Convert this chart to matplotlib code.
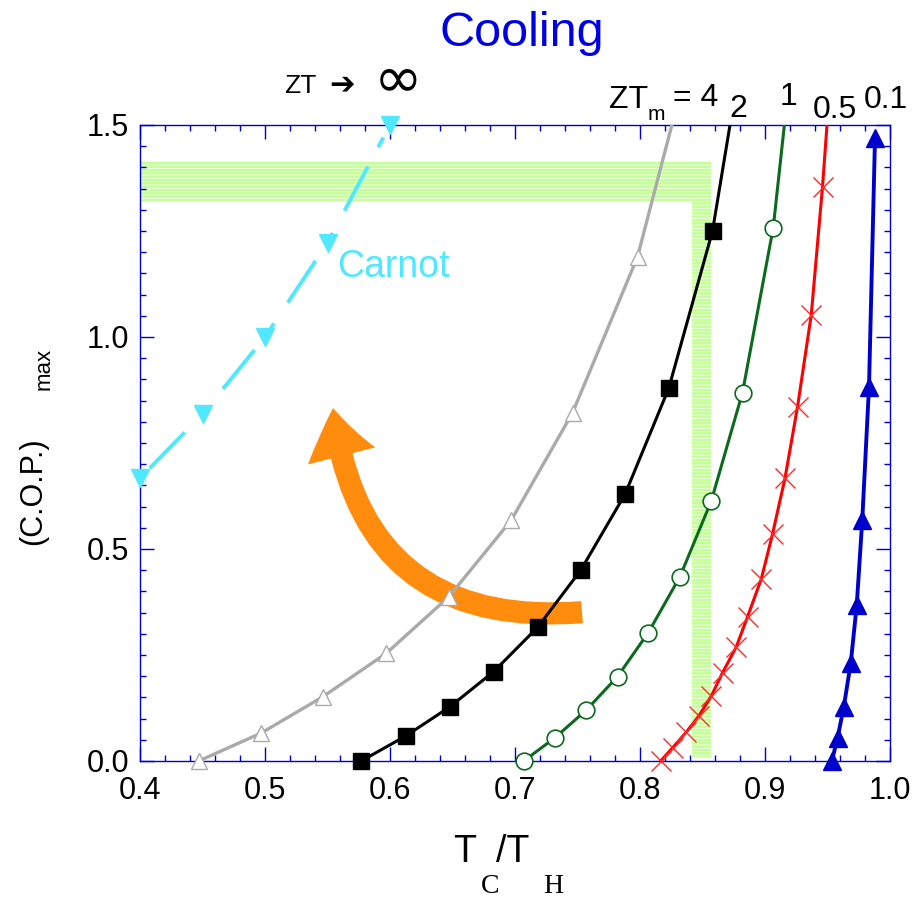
import matplotlib
matplotlib.use("Agg")
import matplotlib.pyplot as plt
from matplotlib.patches import Rectangle, FancyArrowPatch
from matplotlib.ticker import MultipleLocator

plt.rcParams['font.family'] = ['Liberation Sans', 'DejaVu Sans']
plt.rcParams['hatch.linewidth'] = 0.5

# ---------------- data ----------------
# ZT_m = 4 (grey, open triangles)
zt4_x = [0.447, 0.497, 0.546, 0.597, 0.647, 0.697, 0.746, 0.798]
zt4_y = [0.0, 0.066, 0.151, 0.254, 0.387, 0.568, 0.821, 1.189]
zt4_end = (0.8255, 1.5)
# ZT_m = 2 (black squares)
zt2_x = [0.577, 0.6126, 0.648, 0.683, 0.718, 0.7526, 0.788, 0.823, 0.858]
zt2_y = [0.0, 0.059, 0.128, 0.211, 0.315, 0.450, 0.629, 0.879, 1.250]
zt2_end = (0.872, 1.5)
# ZT_m = 1 (green open circles)
zt1_x = [0.707, 0.732, 0.757, 0.782, 0.8067, 0.832, 0.857, 0.882, 0.9066]
zt1_y = [0.0, 0.055, 0.120, 0.199, 0.303, 0.435, 0.613, 0.869, 1.258]
zt1_end = (0.9155, 1.5)
# ZT_m = 0.5 (red crosses)
zt05_x = [0.8165, 0.826, 0.837, 0.847, 0.857, 0.866, 0.877, 0.886, 0.897,
          0.906, 0.916, 0.926, 0.937, 0.946]
zt05_y = [0.0, 0.031, 0.068, 0.106, 0.153, 0.208, 0.269, 0.340, 0.429,
          0.535, 0.667, 0.835, 1.052, 1.354]
zt05_end = (0.9496, 1.5)
# ZT_m = 0.1 (blue filled triangles)
zt01_x = [0.9535, 0.958, 0.963, 0.9686, 0.9734, 0.9778, 0.9832, 0.988]
zt01_y = [0.0, 0.054, 0.127, 0.231, 0.368, 0.568, 0.882, 1.469]
# Carnot limit (ZT -> infinity)
carnot_x = [0.40, 0.45, 0.50, 0.55, 0.60]
carnot_y = [0.667, 0.818, 1.000, 1.222, 1.500]

# highlighted bands (green hatched)
band_h = dict(x0=0.40, x1=0.8568, y0=1.319, y1=1.414)
band_v = dict(x0=0.8412, x1=0.8568, y0=0.010, y1=1.319)

xticks = [0.4, 0.5, 0.6, 0.7, 0.8, 0.9, 1.0]
yticks = [0.0, 0.5, 1.0, 1.5]

# ---------------- figure ----------------
W, H = 921, 907
fig = plt.figure(figsize=(W / 100, H / 100), dpi=100)
L, R, T, B = 140, 890, 125, 761
ax = fig.add_axes([L / W, 1 - B / H, (R - L) / W, (B - T) / H])
ax.set_xlim(0.4, 1.0)
ax.set_ylim(0.0, 1.5)

frame = '#0000cc'
for s in ax.spines.values():
    s.set_color(frame)
    s.set_linewidth(1.0)

ax.xaxis.set_major_locator(MultipleLocator(0.1))
ax.xaxis.set_minor_locator(MultipleLocator(0.02))
ax.yaxis.set_major_locator(MultipleLocator(0.5))
ax.yaxis.set_minor_locator(MultipleLocator(0.05))
ax.tick_params(which='both', direction='in', top=True, right=True,
               color=frame, width=1.0)
ax.tick_params(which='major', length=10)
ax.tick_params(which='minor', length=4.5)
ax.tick_params(axis='x', which='major', labelsize=22, pad=11)
ax.tick_params(axis='y', which='major', labelsize=22, pad=8)
ax.set_xticks(xticks)
ax.set_xticklabels([f"{v:.1f}" for v in xticks])
ax.set_yticks(yticks)
ax.set_yticklabels([f"{v:.1f}" for v in yticks])

# green hatched bands
for b in (band_h, band_v):
    ax.add_patch(Rectangle((b['x0'], b['y0']), b['x1'] - b['x0'], b['y1'] - b['y0'],
                           facecolor='#c6ff9a', edgecolor='white', linewidth=0,
                           hatch='-----', zorder=1))

# orange curved arrow
arrow = FancyArrowPatch((0.7536, 0.351), (0.5544, 0.8325),
                        connectionstyle='arc3,rad=-0.48',
                        arrowstyle='simple,head_length=35,head_width=50,tail_width=16',
                        mutation_scale=1, color='#ff8c0c', lw=0,
                        shrinkA=0, shrinkB=0, zorder=2)
ax.add_patch(arrow)

# curves
ax.plot(zt4_x + [zt4_end[0]], zt4_y + [zt4_end[1]], color='#aaaaaa', lw=2.4, zorder=3)
ax.plot(zt4_x, zt4_y, ls='none', marker='^', ms=12, mfc='white', mec='#aaaaaa',
        mew=1.0, zorder=4, clip_on=False)

ax.plot(zt2_x + [zt2_end[0]], zt2_y + [zt2_end[1]], color='black', lw=2.2, zorder=3)
ax.plot(zt2_x, zt2_y, ls='none', marker='s', ms=12, mfc='black', mec='black',
        zorder=4, clip_on=False)

ax.plot(zt1_x + [zt1_end[0]], zt1_y + [zt1_end[1]], color='#0b6a1e', lw=2.2, zorder=3)
ax.plot(zt1_x, zt1_y, ls='none', marker='o', ms=12, mfc='white', mec='#0b6a1e',
        mew=1.2, zorder=4, clip_on=False)

ax.plot(zt05_x + [zt05_end[0]], zt05_y + [zt05_end[1]], color='#ff0000', lw=2.2, zorder=3)
ax.plot(zt05_x, zt05_y, ls='none', marker='x', ms=14, mec='#ff2a2a',
        mew=1.0, zorder=4, clip_on=False)

ax.plot(zt01_x, zt01_y, color='#0000cc', lw=2.8, marker='^', ms=13,
        mfc='#0000cc', mec='#0000cc', zorder=4, clip_on=False)

# Carnot
lw_c = 2.8
ax.plot(carnot_x, carnot_y, color='#50e8ff', lw=lw_c,
        ls=(24.2, (12.86, 5.66, 2.83, 6.43)), zorder=3, clip_on=False)
ax.plot(carnot_x, carnot_y, ls='none', marker='v', ms=13, mfc='#50e8ff',
        mec='#50e8ff', zorder=4, clip_on=False)


def ftext(px, py, s, **kw):
    fig.text(px / W, 1 - py / H, s, **kw)


ftext(337, 277, 'Carnot', fontsize=27, color='#50e8ff', va='baseline', ha='left')

# title and annotations
ftext(522, 46, 'Cooling', fontsize=35, color='#0000e6', ha='center', va='baseline')
ftext(284, 93, 'ZT', fontsize=19, ha='left', va='baseline')
ftext(329, 93, '\u2794', fontsize=22, ha='left', va='baseline',
      family='DejaVu Sans', fontweight='bold')
ftext(374, 96, '\u221e', fontsize=42, ha='left', va='baseline', family='DejaVu Sans')

ftext(609, 108, 'ZT', fontsize=23, ha='left', va='baseline')
ftext(648, 120, 'm', fontsize=15, ha='left', va='baseline')
ftext(673, 106, '= 4', fontsize=23, ha='left', va='baseline')
ftext(729, 117, '2', fontsize=23, ha='left', va='baseline')
ftext(780, 105, '1', fontsize=23, ha='left', va='baseline')
ftext(813, 118, '0.5', fontsize=23, ha='left', va='baseline')
ftext(864, 108, '0.1', fontsize=23, ha='left', va='baseline')

# axis labels
ftext(33, 545, '(C.O.P.)', fontsize=22, rotation=90, ha='center', va='bottom')
ftext(44, 390, 'max', fontsize=16, rotation=90, ha='center', va='bottom')

ftext(453, 862, 'T', fontsize=27, ha='left', va='baseline')
ftext(481, 893, 'C', fontsize=20, ha='left', va='baseline', family='Liberation Serif')
ftext(496, 862, '/T', fontsize=27, ha='left', va='baseline')
ftext(543, 893, 'H', fontsize=20, ha='left', va='baseline', family='Liberation Serif')

fig.savefig('out.png', dpi=100)
